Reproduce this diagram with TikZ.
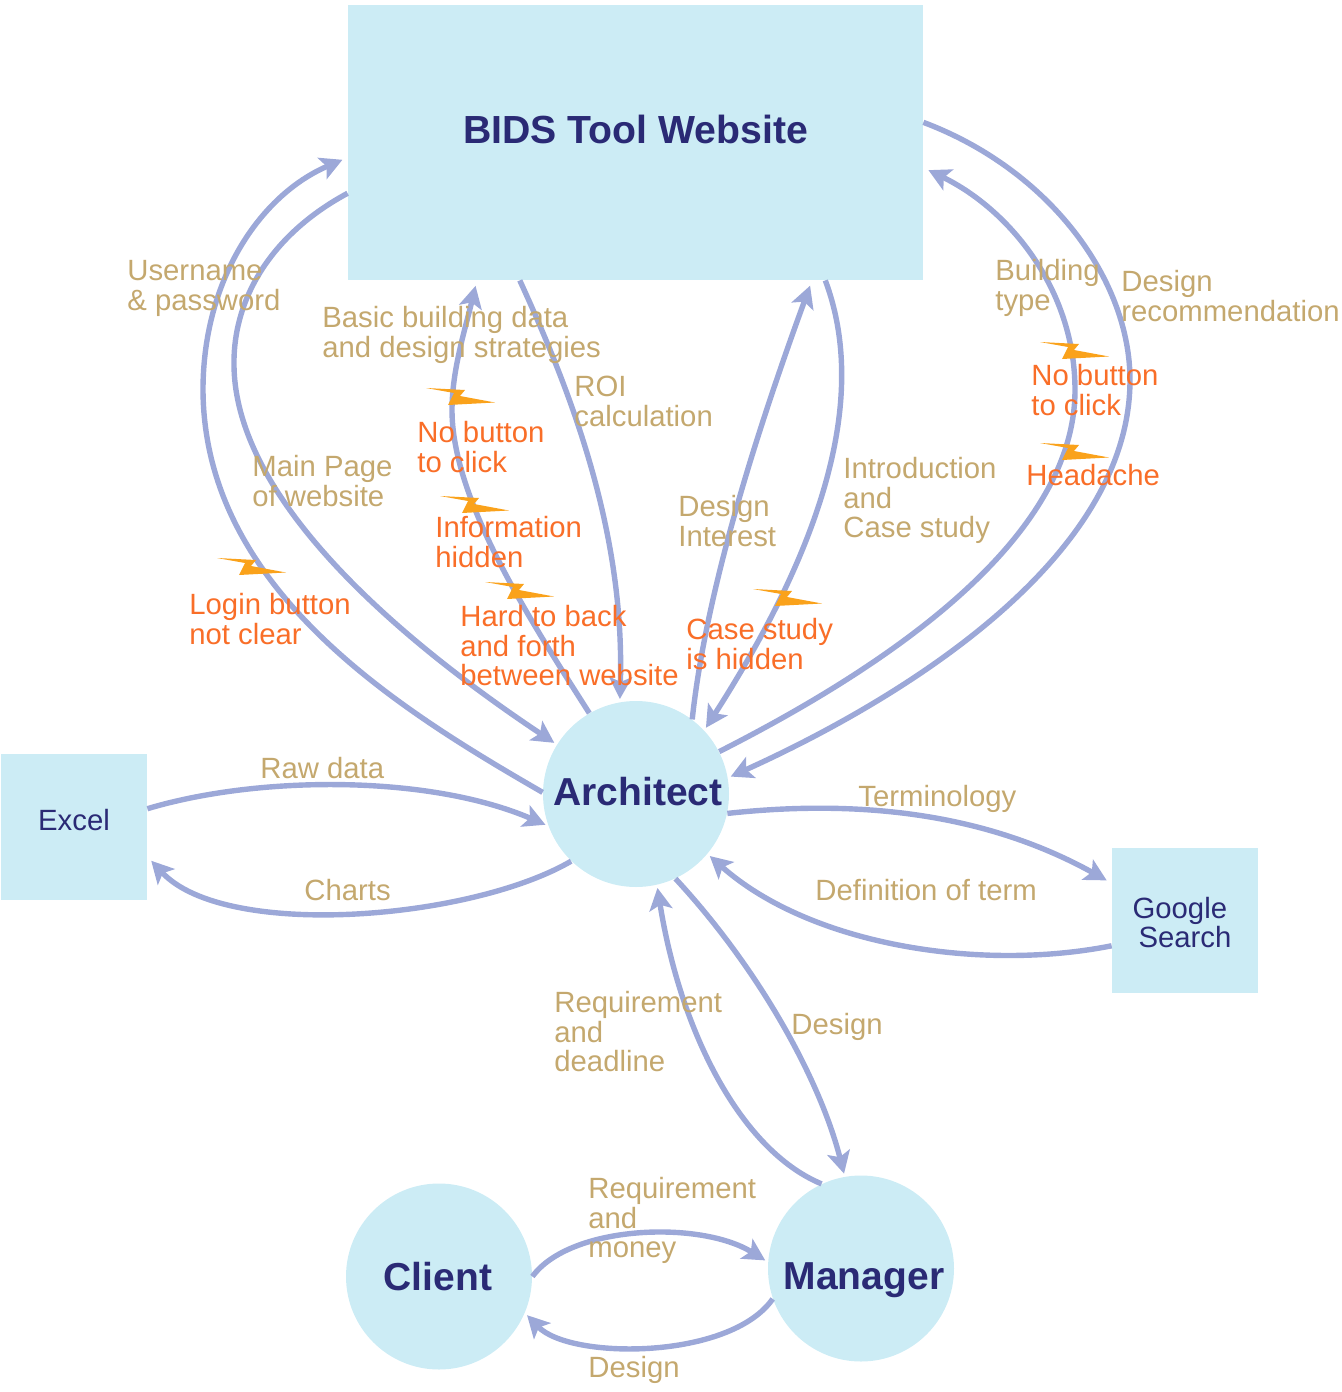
\documentclass[tikz,border=0pt]{standalone}
\usepackage{fontspec}
\setmainfont{Liberation Sans}
\usetikzlibrary{arrows.meta}

\definecolor{paleblue}{HTML}{CCECF5}
\definecolor{flowblue}{HTML}{9CA8D8}
\definecolor{navytext}{HTML}{2A2A75}
\definecolor{tantext}{HTML}{C4A86E}
\definecolor{issuetext}{HTML}{F96E28}
\definecolor{boltorange}{HTML}{FAA21B}

\tikzset{
	actor/.style={circle,fill=paleblue,minimum size=93pt,inner sep=0pt,text=navytext,font=\fontsize{19.5}{22}\selectfont\bfseries},
	toolbox/.style={rectangle,fill=paleblue,inner sep=0pt,text=navytext,font=\fontsize{14.65}{14.8}\selectfont,align=left},
	flow/.style={draw=flowblue,line width=2.7pt,shorten >=1.5pt,-{Stealth[length=11pt,width=11.5pt,inset=2.5pt]}},
	tobox/.style={flow,shorten >=2.8pt},
	note/.style={anchor=north west,inner sep=0pt,xshift=-0.5pt,align=left,text=tantext,font=\fontsize{14.65}{14.8}\selectfont},
	issue/.style={note,text=issuetext},
	bolt/.pic={\fill[boltorange] (0,0) -- (39,2) -- (34,8) -- (69,14.5) -- (22,17) -- (28,5) -- cycle;}
}

\begin{document}
\begin{tikzpicture}[x=0.5pt,y=-0.5pt]
	\useasboundingbox (0,0) rectangle (1341,1392);

	% boxes and people
	\node[toolbox,minimum width=287.5pt,minimum height=137.5pt,text depth=13pt,font=\fontsize{19.6}{22}\selectfont\bfseries] (site) at (635.5,142.5) {BIDS Tool Website};
	\node[toolbox,minimum size=73pt,text depth=7pt] (excel) at (74,827) {Excel};
	\node[toolbox,minimum width=73pt,minimum height=72.5pt] (google) at (1185,920.5) {\rule{0pt}{12.5pt}Google\\\hspace{3pt}Search\rule{3pt}{0pt}};
	\node[actor,text depth=3pt] (architect) at (636,794) {\hspace{2pt}Architect};
	\node[actor] (client) at (439,1276.5) {Client\rule{1pt}{0pt}};
	\node[actor,text height=25pt] (manager) at (861,1268.5) {\hspace{3pt}Manager};

	% architect and website
	\draw[tobox] (architect.179) .. controls (400,710) and (204,590) .. (203,390) .. controls (203,280) and (260,195) .. (site.183);
	\draw[flow] (site.190) .. controls (270,235) and (233,300) .. (234,365) .. controls (235,500) and (400,640) .. (architect.148);
	\draw[tobox] (architect.120) .. controls (530,620) and (452,500) .. (452,410) .. controls (452,370) and (465,330) .. (site.221);
	\draw[flow] (site.230) .. controls (570,390) and (625,530) .. (architect.100);
	\draw[tobox] (architect.53) .. controls (705,600) and (750,450) .. (site.-38.4);
	\draw[flow] (site.-36.7) .. controls (870,400) and (820,550) .. (architect.43);
	\draw[tobox] (architect.27) .. controls (860,680) and (1075,550) .. (1075,390) .. controls (1075,290) and (1010,210) .. (site.-5);
	\draw[flow] (site.4) .. controls (1050,170) and (1130,280) .. (1130,380) .. controls (1130,560) and (900,700) .. (architect.10);

	% architect and tools
	\draw[flow] (excel.14) .. controls (260,775) and (430,775) .. (architect.200);
	\draw[tobox] (architect.226) .. controls (470,920) and (225,940) .. (excel.-22);
	\draw[tobox] (architect.-12) .. controls (850,800) and (980,810) .. (google.153);
	\draw[flow] (google.199) .. controls (980,972) and (810,945) .. (architect.-40);

	% manager and client
	\draw[flow] (manager.115) .. controls (740,1150) and (680,1030) .. (architect.-77);
	\draw[flow] (architect.-65) .. controls (760,970) and (820,1080) .. (manager.100.6);
	\draw[flow] (client.0) .. controls (570,1225) and (700,1220) .. (manager.176);
	\draw[flow] (manager.199) .. controls (730,1360) and (570,1360) .. (client.-23);

	% what is passed along
	\node[note] (username) at (128,260) {Username\\\& password};
	\node[note] (mainpage) at (253,455) {Main Page\\of website};
	\node[note] (basicdata) at (323,306) {Basic building data\\and design strategies};
	\node[note] (roi) at (575,376) {ROI\\calculation};
	\node[note] (interest) at (679,495) {Design\\Interest};
	\node[note] (intro) at (844,457) {Introduction\\and\\Case study};
	\node[note] (buildtype) at (996,259) {Building\\type};
	\node[note] (recommend) at (1122,270) {Design\\recommendation};
	\node[note] (rawdata) at (261,757) {Raw data};
	\node[note] (charts) at (305,879) {Charts};
	\node[note] (terms) at (859,785) {Terminology};
	\node[note] (definition) at (816,879) {Definition of term};
	\node[note] (deadline) at (555,991) {Requirement\\and\\deadline};
	\node[note] (designup) at (792,1013) {Design};
	\node[note] (money) at (589,1177) {Requirement\\and\\money};
	\node[note] (designdown) at (589,1356) {Design};

	% problems
	\pic at (217,558) {bolt};
	\pic at (426,388) {bolt};
	\pic at (440,496) {bolt};
	\pic at (485,582) {bolt};
	\pic at (753,589) {bolt};
	\pic at (1040,342) {bolt};
	\pic at (1040,443) {bolt};
	\node[issue] (login) at (190,593) {Login button\\not clear};
	\node[issue] (nobuttona) at (418,421) {No button\\to click};
	\node[issue] (hiddeninfo) at (436,516) {Information\\hidden};
	\node[issue] (backforth) at (461,605) {Hard to back\\and forth\\between website};
	\node[issue] (casestudy) at (687,618) {Case study\\is hidden};
	\node[issue] (nobuttonb) at (1032,364) {No button\\to click};
	\node[issue] (headache) at (1027,464) {Headache};
\end{tikzpicture}
\end{document}
